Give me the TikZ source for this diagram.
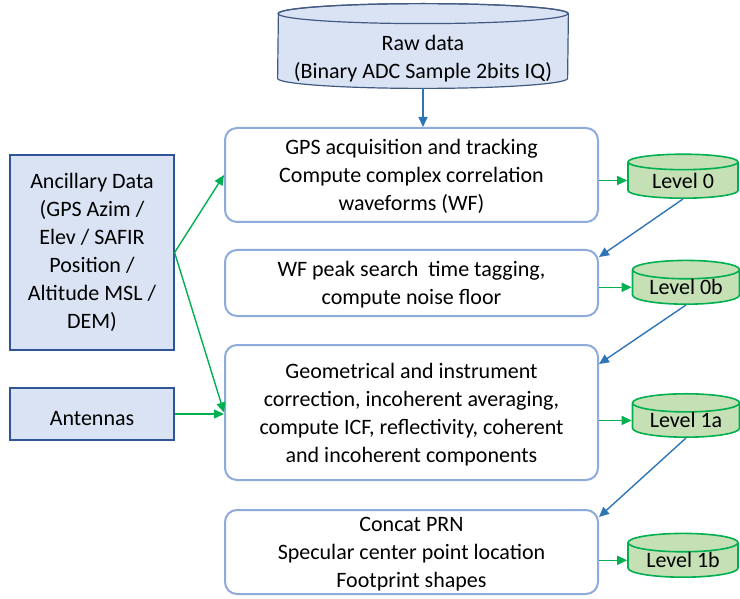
\documentclass[tikz,border=0pt]{standalone}
\usepackage{fontspec}
\setmainfont{Carlito}
\usetikzlibrary{shapes.geometric,arrows.meta,backgrounds}
\definecolor{boxblue}{RGB}{143,170,220}
\definecolor{fillblue}{RGB}{218,227,243}
\definecolor{darkblue}{RGB}{47,85,151}
\definecolor{arrowblue}{RGB}{46,117,182}
\definecolor{levelgreen}{RGB}{0,176,80}
\definecolor{fillgreen}{RGB}{197,224,180}
\definecolor{rawedge}{RGB}{65,90,130}

\begin{document}
\begin{tikzpicture}[x=0.5pt, y=-0.5pt,
    every node/.style={font=\fontsize{11}{14}\selectfont, align=center, inner sep=0pt},
    process/.style={rectangle, draw=boxblue, line width=1pt, rounded corners=6pt, fill=white, minimum width=186.5pt, text depth=-1.5pt},
    input/.style={rectangle, draw=darkblue, line width=0.6pt, fill=fillblue, minimum width=82pt},
    store/.style={rectangle, minimum width=145pt, minimum height=29pt},
    level/.style={cylinder, shape border rotate=90, draw=levelgreen, line width=0.8pt, fill=fillgreen, aspect=0.25, anchor=south},
    flow/.style={-{Triangle[length=5pt, width=4.5pt]}, arrowblue, line width=0.7pt},
    feed/.style={-{Triangle[length=5pt, width=4.5pt]}, levelgreen, line width=0.7pt}]

\useasboundingbox (0,0) rectangle (740,599);

% Raw data
\node[store] (raw) at (423,59) {Raw data\\(Binary ADC Sample 2bits IQ)};
\begin{scope}[on background layer]
  \path[draw=rawedge, line width=0.6pt, fill=fillblue]
    ([yshift=5pt]raw.south west) arc[start angle=180, end angle=360, x radius=72.5pt, y radius=5pt]
    -- ([yshift=8pt]raw.north east) arc[start angle=0, end angle=180, x radius=72.5pt, y radius=5pt] -- cycle;
  \draw[rawedge, line width=0.6pt] ([yshift=8pt]raw.north) ellipse[x radius=72.5pt, y radius=5pt];
\end{scope}

% Processing steps
\node[process, minimum height=47pt] (gps) at (411.5,175) {GPS acquisition and tracking\\Compute complex correlation\\waveforms (WF)};
\node[process, minimum height=33pt] (peak) at (411.5,283) {WF peak search\ \ time tagging,\\compute noise floor};
\node[process, minimum height=67.5pt, text depth=-3.5pt] (geo) at (411.5,412.5) {Geometrical and instrument\\correction, incoherent averaging,\\compute ICF, reflectivity, coherent\\and incoherent components};
\node[process, minimum height=42pt] (spec) at (411.5,552) {Concat PRN\\Specular center point location\\Footprint shapes};

% Inputs
\node[input, minimum height=97.5pt] (anc) at (92,252.5) {Ancillary Data\\(GPS Azim /\\Elev / SAFIR\\Position /\\Altitude MSL /\\DEM)};
\node[input, minimum height=26pt, text height=12pt] (ant) at (92,414) {Antennas};

% Levels
\node[level, minimum width=55pt, minimum height=22pt] (lvl0) at (683,199) {Level 0};
\node[level, minimum width=53.5pt, minimum height=19.5pt] (lvl0b) at (686,305) {Level 0b};
\node[level, minimum width=53.5pt, minimum height=21.5pt] (lvl1a) at (686,438) {Level 1a};
\node[level, minimum width=55pt, minimum height=20.5pt] (lvl1b) at (683,578) {Level 1b};

% Arrows
\draw[flow] (raw.south) -- (raw.south |- gps.north);
\draw[flow] (lvl0.south) -- ([yshift=-4pt]peak.north east);
\draw[flow] (lvl0b.south) -- ([yshift=-10pt]geo.north east);
\draw[flow] (lvl1a.south) -- ([yshift=-4pt]spec.north east);
\draw[feed] (gps.east |- lvl0) -- (lvl0.west |- lvl0);
\draw[feed] (peak.east |- lvl0b) -- (lvl0b.west |- lvl0b);
\draw[feed] (geo.east |- lvl1a) -- (lvl1a.west |- lvl1a);
\draw[feed] (spec.east |- lvl1b) -- (lvl1b.west |- lvl1b);
\draw[feed] (anc.east) -- (gps.west);
\draw[feed] (anc.east) -- (geo.west);
\draw[feed] (ant.east) -- (ant.east -| geo.west);

\end{tikzpicture}
\end{document}
